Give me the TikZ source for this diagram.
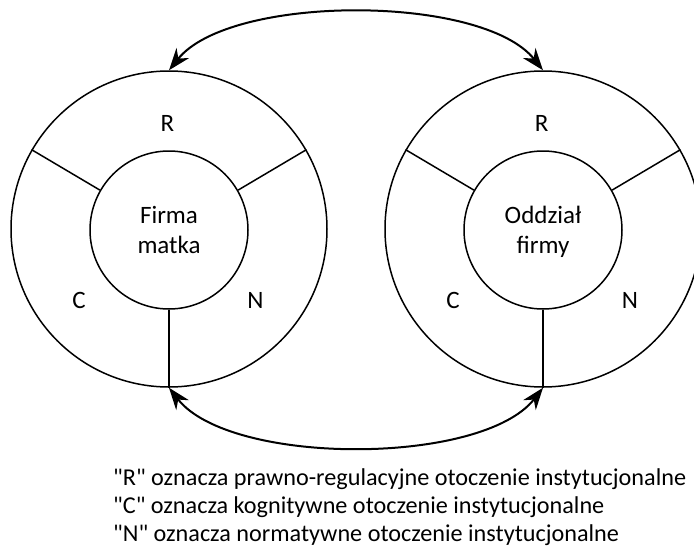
\documentclass[tikz,border=0pt]{standalone}
\usepackage{fontspec}
\setmainfont{Carlito}[Ligatures=TeXOff]
\usetikzlibrary{arrows.meta}
\begin{document}
\begin{tikzpicture}[x=1pt,y=-1pt,
  ring/.style={circle,draw,line width=1.5pt,minimum size=316pt,inner sep=0pt},
  core/.style={circle,draw,line width=1.5pt,minimum size=158pt,inner sep=0pt},
  coretext/.style={anchor=base,inner sep=0pt,font=\fontsize{25}{30}\selectfont},
  sector/.style={anchor=base,inner sep=0pt,font=\fontsize{25}{30}\selectfont},
  divider/.style={line width=1.5pt},
  link/.style={line width=2pt,{Stealth[length=22pt,width=16pt,inset=7pt]}-{Stealth[length=22pt,width=16pt,inset=7pt]}},
  legend/.style={anchor=base west,inner sep=0pt,font=\fontsize{24.2}{28}\selectfont}]
\useasboundingbox (0,0) rectangle (694,546);
\clip (0,0) rectangle (694,546);

% parent company
\node[ring] (outA) at (169,229) {};
\node[core] (inA) at (169,230) {};
\node[coretext] (tA1) at (169,223) {Firma};
\node[coretext] (tA2) at (169,253) {matka};
\draw[divider] (inA.150) -- (outA.150);
\draw[divider] (inA.30) -- (outA.30);
\draw[divider] (inA.270) -- (outA.270);
\node[sector] (rA) at (167.5,131) {R};
\node[sector] (cA) at (79,308) {C};
\node[sector] (nA) at (255.5,308) {N};

% subsidiary
\node[ring] (outB) at (543,229) {};
\node[core] (inB) at (543,230) {};
\node[coretext] (tB1) at (543,223) {Oddział};
\node[coretext] (tB2) at (543,253) {firmy};
\draw[divider] (inB.150) -- (outB.150);
\draw[divider] (inB.30) -- (outB.30);
\draw[divider] (inB.270) -- (outB.270);
\node[sector] (rB) at (541.7,131) {R};
\node[sector] (cB) at (453,308) {C};
\node[sector] (nB) at (630,308) {N};

% two-way links between the environments
\draw[link] (outA.north) .. controls (230,-6) and (482,-6) .. (outB.north);
\draw[link] (outA.south) .. controls (230,466) and (482,466) .. (outB.south);

% key
\node[legend] (k1) at (113,485) {"R" oznacza prawno-regulacyjne otoczenie instytucjonalne};
\node[legend] (k2) at (113,513) {"C" oznacza kognitywne otoczenie instytucjonalne};
\node[legend] (k3) at (113,541) {"N" oznacza normatywne otoczenie instytucjonalne};
\end{tikzpicture}
\end{document}
